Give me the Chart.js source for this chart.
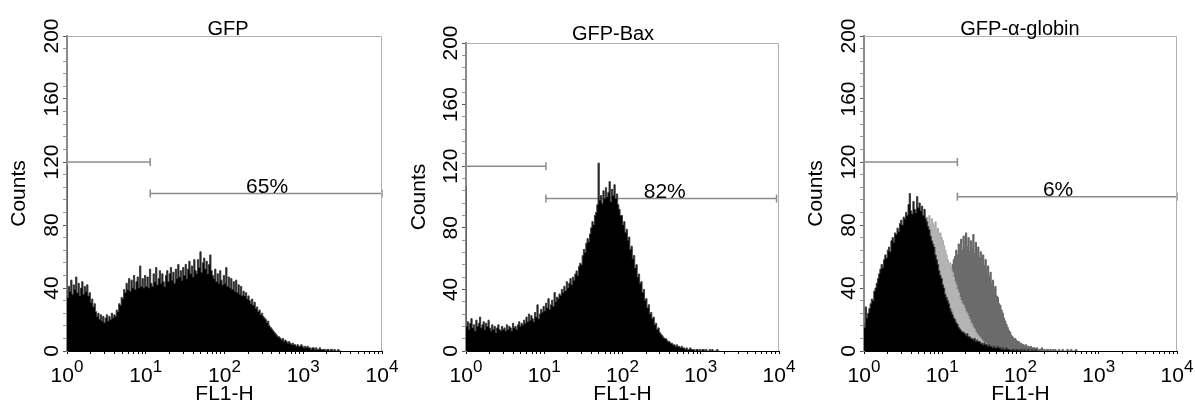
<!DOCTYPE html>
<html>
<head>
<meta charset="utf-8">
<script src="https://cdn.jsdelivr.net/npm/chart.js@4.4.0/dist/chart.umd.min.js"></script>
<style>
  body { margin: 0; background: #fff; }
  #wrap { position: relative; width: 1195px; height: 407px; }
  canvas { position: absolute; top: 0; }
</style>
</head>
<body>
<div id="wrap">
  <canvas id="c0" width="400" height="407" style="left:0px"></canvas>
  <canvas id="c1" width="397" height="407" style="left:400px"></canvas>
  <canvas id="c2" width="398" height="407" style="left:797px"></canvas>
</div>
<script>
// FL1-H histograms, 64 channels per decade starting at 10^0
const gfpCounts = [
  118, 34, 41, 38, 45, 36, 42, 39, 47, 37, 43, 35, 40, 44, 36, 41,
  38, 42, 35, 37, 31, 33, 28, 30, 25, 22, 24, 20, 23, 19, 22, 18,
  21, 23, 19, 22, 20, 24, 21, 23, 22, 26, 25, 30, 29, 34, 33, 39,
  37, 43, 39, 46, 38, 45, 40, 48, 39, 44, 47, 40, 54, 41, 46, 40,
  48, 41, 47, 40, 52, 43, 41, 49, 44, 53, 42, 46, 51, 43, 49, 44,
  41, 48, 51, 44, 49, 53, 45, 50, 43, 52, 46, 55, 47, 51, 45, 53,
  48, 55, 46, 52, 57, 49, 54, 47, 58, 51, 49, 58, 53, 63, 50, 56,
  59, 52, 57, 49, 55, 61, 51, 48, 46, 52, 44, 49, 43, 51, 45, 42,
  48, 43, 53, 41, 47, 40, 46, 39, 44, 38, 45, 37, 42, 36, 41, 35,
  38, 35, 37, 33, 35, 32, 30, 33, 29, 31, 27, 28, 25, 26, 23, 24,
  22, 21, 20, 18, 19, 16, 15, 14, 13, 12, 11, 10, 9, 9, 8, 7,
  8, 6, 7, 6, 5, 6, 5, 4, 5, 4, 4, 3, 4, 3, 3, 4,
  3, 2, 3, 2, 3, 2, 2, 1, 2, 2, 1, 2, 1, 1, 2, 1,
  1, 1, 1, 0, 1, 1, 0, 1, 1, 0, 1, 0, 0, 1, 0, 0
];
const baxCounts = [
  107, 16, 19, 14, 18, 21, 15, 17, 13, 20, 16, 18, 22, 15, 17, 19,
  14, 18, 16, 20, 15, 13, 17, 14, 16, 12, 15, 17, 14, 13, 16, 14,
  15, 13, 17, 14, 16, 15, 13, 18, 15, 16, 14, 17, 19, 16, 18, 17,
  20, 18, 22, 19, 24, 20, 23, 21, 19, 25, 22, 30, 21, 24, 27, 25,
  29, 26, 31, 28, 34, 27, 30, 33, 29, 38, 32, 35, 34, 37, 36, 40,
  38, 42, 39, 45, 41, 44, 47, 43, 48, 46, 50, 52, 49, 55, 57, 56,
  62, 66, 64, 70, 73, 71, 76, 80, 84, 82, 88, 90, 95, 122, 98, 101,
  96, 104, 99, 106, 100, 103, 110, 97, 105, 101, 108, 99, 102, 95, 92, 88,
  88, 82, 84, 77, 79, 72, 74, 66, 68, 60, 62, 54, 56, 48, 50, 44,
  45, 38, 40, 33, 34, 28, 30, 24, 25, 21, 22, 17, 18, 14, 15, 12,
  11, 10, 9, 8, 8, 7, 6, 6, 5, 5, 4, 4, 3, 4, 3, 3,
  2, 3, 2, 2, 1, 2, 1, 1, 2, 1, 1, 1, 0, 1, 1, 0,
  1, 0, 1, 1, 0, 1, 0, 0, 1, 0, 1, 0, 0, 0, 1, 0
];
const globinCounts = [
  18, 15, 28, 21, 24, 27, 30, 33, 32, 38, 40, 43, 46, 49, 52, 55,
  53, 58, 61, 59, 64, 66, 63, 70, 72, 69, 75, 74, 78, 76, 81, 83,
  80, 85, 84, 88, 86, 93, 100, 89, 87, 95, 90, 88, 98, 91, 94, 89,
  92, 86, 90, 84, 82, 79, 77, 73, 70, 68, 66, 61, 58, 55, 51, 48,
  46, 42, 40, 36, 34, 32, 30, 27, 25, 23, 21, 20, 18, 17, 15, 14,
  13, 12, 12, 11, 10, 11, 9, 9, 8, 8, 7, 8, 6, 7, 6, 6,
  5, 5, 4, 5, 4, 4, 3, 4, 3, 3, 2, 3, 2, 2, 3, 2,
  2, 1, 2, 1, 1, 2, 1, 1, 1, 0, 1, 1, 0, 1, 1, 0,
  1, 0, 1, 0, 1, 0, 0, 1, 0, 0, 1, 0, 0, 1, 0, 0
];
const globinLight = [
  12, 10, 14, 13, 16, 18, 20, 22, 24, 26, 28, 31, 33, 36, 38, 41,
  43, 46, 48, 50, 53, 55, 57, 60, 62, 63, 66, 68, 70, 71, 73, 74,
  76, 77, 78, 80, 79, 81, 82, 80, 83, 82, 84, 83, 85, 84, 86, 85,
  87, 84, 86, 83, 85, 82, 86, 80, 84, 81, 79, 82, 77, 78, 74, 75,
  72, 70, 67, 64, 61, 58, 55, 56, 52, 50, 47, 44, 42, 39, 37, 34,
  32, 30, 29, 27, 25, 24, 22, 20, 18, 17, 15, 14, 12, 11, 10, 9,
  8, 7, 6, 5, 5, 4, 4, 3, 3, 3, 2, 2, 2, 1, 1, 1,
  1, 1, 0, 1
];
const globinDark = [
  2, 1, 2, 2, 3, 2, 3, 3, 4, 3, 4, 5, 4, 5, 6, 5,
  6, 7, 6, 8, 7, 8, 9, 8, 10, 9, 11, 10, 12, 11, 13, 12,
  14, 13, 15, 14, 16, 15, 17, 16, 18, 17, 19, 21, 20, 22, 21, 24,
  18, 20, 19, 22, 21, 23, 25, 24, 26, 28, 27, 30, 32, 31, 34, 36,
  35, 38, 40, 39, 43, 45, 44, 48, 52, 55, 58, 60, 64, 61, 68, 65,
  71, 64, 73, 65, 75, 66, 72, 63, 70, 65, 74, 62, 69, 60, 66, 59,
  63, 56, 61, 54, 58, 51, 54, 47, 50, 43, 45, 39, 41, 35, 34, 30,
  29, 26, 24, 21, 19, 17, 15, 13, 12, 10, 9, 8, 8, 7, 6, 6,
  5, 5, 4, 4, 3, 4, 3, 3, 2, 3, 2, 2, 2, 1, 2, 1,
  1, 1, 2, 1, 1, 0, 1, 1, 0, 1, 0, 1, 0, 1, 0, 0,
  1, 0, 0, 1, 0, 0, 0, 1, 0, 0, 1, 0, 0, 0, 1, 0
];

const titles = ['GFP', 'GFP-Bax', 'GFP-\u03b1-globin'];
const percents = ['65%', '82%', '6%'];
const percentX = [347, 347, 302];
const upperGateLevel = [120, 120, 120];
const upperGateEnd = [11.4, 10.5, 15.6];
const lowerGateLevel = [100, 99, 98];
const lowerGateEnd = [10000, 9300, 10000];
const decades = [1, 10, 100, 1000, 10000];
const decadeExp = ['0', '1', '2', '3', '4'];

const panelSeries = [
  [{ counts: gfpCounts, color: '#000', edge: '#3a3a3a' }],
  [{ counts: baxCounts, color: '#000', edge: '#3a3a3a' }],
  [
    { counts: globinCounts, color: '#000', edge: '#3a3a3a' },
    { counts: globinLight, color: '#b4b4b4', edge: '#a8a8a8' },
    { counts: globinDark, color: '#6b6b6b', edge: '#626262' }
  ]
];

// layout of each panel inside its canvas
const panels = [
  { id: 'c0', yWidth: 67, top: 36, titleX: 228, titleY: 34.5 },
  { id: 'c1', yWidth: 66, top: 43, titleX: 213, titleY: 40 },
  { id: 'c2', yWidth: 67, top: 36, titleX: 223, titleY: 35 }
];

const FONT = '"Liberation Sans", Arial, sans-serif';
Chart.defaults.font.family = FONT;
Chart.defaults.color = '#000';

const CH_PER_DECADE = 64;
const toPoints = arr => arr.map((v, i) => ({ x: Math.pow(10, i / CH_PER_DECADE), y: v }));

const logTicks = [];
decades.slice(0, 4).forEach(d => { for (let k = 1; k < 10; k++) logTicks.push(d * k); });
logTicks.push(10000);

const overlay = {
  id: 'overlay',
  afterDatasetsDraw(chart) {
    const { ctx, chartArea: a } = chart;
    ctx.save();
    ctx.strokeStyle = '#b0b0b0';
    ctx.lineWidth = 1;
    ctx.beginPath();
    ctx.moveTo(a.left, a.top + 0.5);
    ctx.lineTo(a.right - 0.5, a.top + 0.5);
    ctx.lineTo(a.right - 0.5, a.bottom);
    ctx.stroke();
    ctx.restore();
  },
  afterDraw(chart, args, o) {
    const { ctx, chartArea: a, scales: { x, y } } = chart;
    ctx.save();
    ctx.fillStyle = '#000';
    ctx.textBaseline = 'alphabetic';
    ctx.textAlign = 'left';
    // 10^n labels under the decade ticks
    x.ticks.forEach(t => {
      const n = decades.indexOf(t.value);
      if (n < 0) return;
      const px = x.getPixelForValue(t.value);
      ctx.font = '21px ' + FONT;
      const wBase = ctx.measureText('10').width;
      ctx.font = '17px ' + FONT;
      const wExp = ctx.measureText(decadeExp[n]).width;
      const left = px - (wBase + wExp) / 2;
      ctx.font = '21px ' + FONT;
      ctx.fillText('10', left, a.bottom + 31);
      ctx.font = '17px ' + FONT;
      ctx.fillText(decadeExp[n], left + wBase, a.bottom + 21);
    });
    ctx.textAlign = 'center';
    ctx.font = '20px ' + FONT;
    ctx.fillText(o.title, o.titleX, o.titleY);
    ctx.font = '21px ' + FONT;
    ctx.fillText(o.label, x.getPixelForValue(o.labelX), y.getPixelForValue(o.labelY) - 1);
    ctx.restore();
  }
};

function gate(level, from, to, caps) {
  return {
    type: 'line',
    data: [{ x: from, y: level }, { x: to, y: level }],
    borderColor: '#8c8c8c',
    borderWidth: 1.5,
    pointStyle: 'line',
    rotation: 90,
    pointRadius: caps,
    pointBorderColor: '#8c8c8c',
    pointBorderWidth: 1.5,
    fill: false,
    clip: false,
    order: 10
  };
}

panels.forEach((p, i) => {
  const datasets = panelSeries[i].map((s, j) => ({
    data: toPoints(s.counts),
    stepped: 'after',
    fill: 'origin',
    backgroundColor: s.color,
    borderColor: s.edge,
    borderWidth: 1,
    pointRadius: 0,
    order: j
  }));
  datasets.push(gate(upperGateLevel[i], 1, upperGateEnd[i], [0, 4]));
  datasets.push(gate(lowerGateLevel[i], upperGateEnd[i], lowerGateEnd[i], [4, 4]));

  new Chart(document.getElementById(p.id), {
    type: 'line',
    data: { datasets },
    plugins: [overlay],
    options: {
      responsive: false,
      animation: false,
      devicePixelRatio: 1,
      layout: { padding: { top: p.top, right: 18, bottom: 0, left: 0 } },
      plugins: {
        legend: { display: false },
        tooltip: { enabled: false },
        overlay: {
          title: titles[i], titleX: p.titleX, titleY: p.titleY,
          label: percents[i], labelX: percentX[i], labelY: lowerGateLevel[i]
        }
      },
      scales: {
        x: {
          type: 'logarithmic',
          min: 1,
          max: 10000,
          afterBuildTicks: sc => { sc.ticks = logTicks.map(v => ({ value: v })); },
          afterFit: sc => { sc.height = 56; },
          ticks: { display: false },
          grid: { drawOnChartArea: false, drawTicks: true, tickLength: 3, tickColor: '#000' },
          border: { color: '#000', width: 1 },
          title: { display: true, text: 'FL1-H', font: { size: 21 }, padding: { top: 0, bottom: 0 } }
        },
        y: {
          min: 0,
          max: 200,
          afterFit: sc => { sc.width = p.yWidth; },
          ticks: {
            stepSize: 8,
            autoSkip: false,
            minRotation: 90,
            maxRotation: 90,
            crossAlign: 'center',
            padding: -6.5,
            font: { size: 21 },
            callback: v => (v % 40 === 0 ? String(v) : '')
          },
          grid: {
            drawOnChartArea: false,
            tickLength: 4,
            tickColor: c => (c.tick && c.tick.value % 40 === 0 ? '#555' : '#999')
          },
          border: { color: '#8a8a8a', width: 2 },
          title: { display: true, text: 'Counts', font: { size: 21 }, padding: { top: 6.4, bottom: 0 } }
        }
      }
    }
  });
});
</script>
</body>
</html>
